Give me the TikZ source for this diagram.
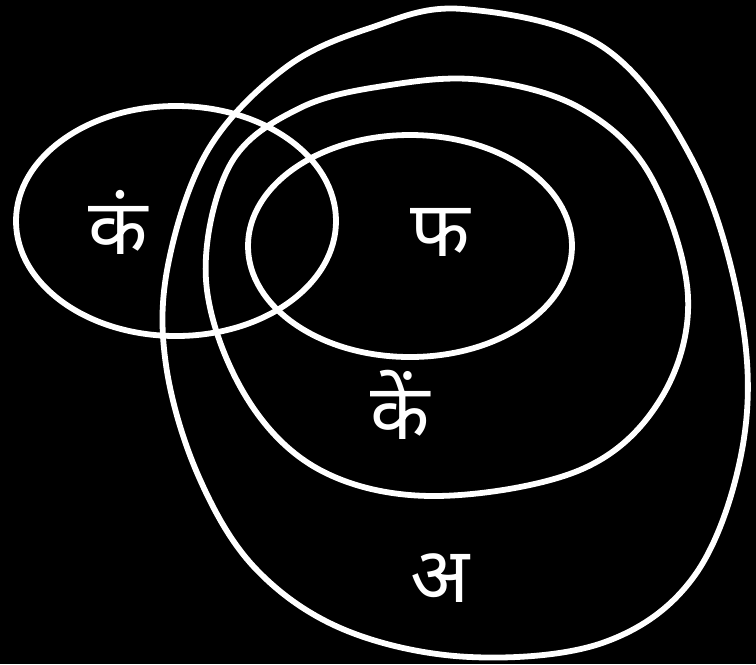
\documentclass[tikz,border=0pt]{standalone}
\usepackage{fontspec}
\newfontfamily\deva[Script=Devanagari]{Noto Sans}
\begin{document}
\begin{tikzpicture}[x=0.02cm,y=-0.02cm,
  ring/.style={draw=white,line width=3.3pt},
  lbl/.style={text=white,font=\deva\fontsize{44}{48}\selectfont,inner sep=0pt}]
\fill[black] (0,0) rectangle (756,664);
\useasboundingbox (0,0) rectangle (756,664);
% outer set
\draw[ring] plot[smooth cycle,tension=0.6] coordinates {
 (463,9) (603,47) (695,165) (742,320) (742,450) (695,575) (605,642) (470,657)
 (345,630) (255,568) (198,475) (166,365) (168,265) (208,150) (285,68) (370,28)};
% middle set
\draw[ring] plot[smooth cycle,tension=0.6] coordinates {
 (482,80) (580,108) (650,175) (688,297) (660,400) (580,470) (434,496)
 (320,470) (245,395) (206,280) (230,165) (300,108) (390,85)};
% inner set
\draw[ring] (410,246) ellipse [x radius=162, y radius=111];
% left set
\draw[ring] (176,221) ellipse [x radius=160, y radius=115];
\node[lbl] (k1) at (118,222) {कं};
\node[lbl] (ph) at (440,232) {फ};
\node[lbl] (ke) at (400,405) {कें};
\node[lbl] (a) at (440,578) {अ};
\end{tikzpicture}
\end{document}
